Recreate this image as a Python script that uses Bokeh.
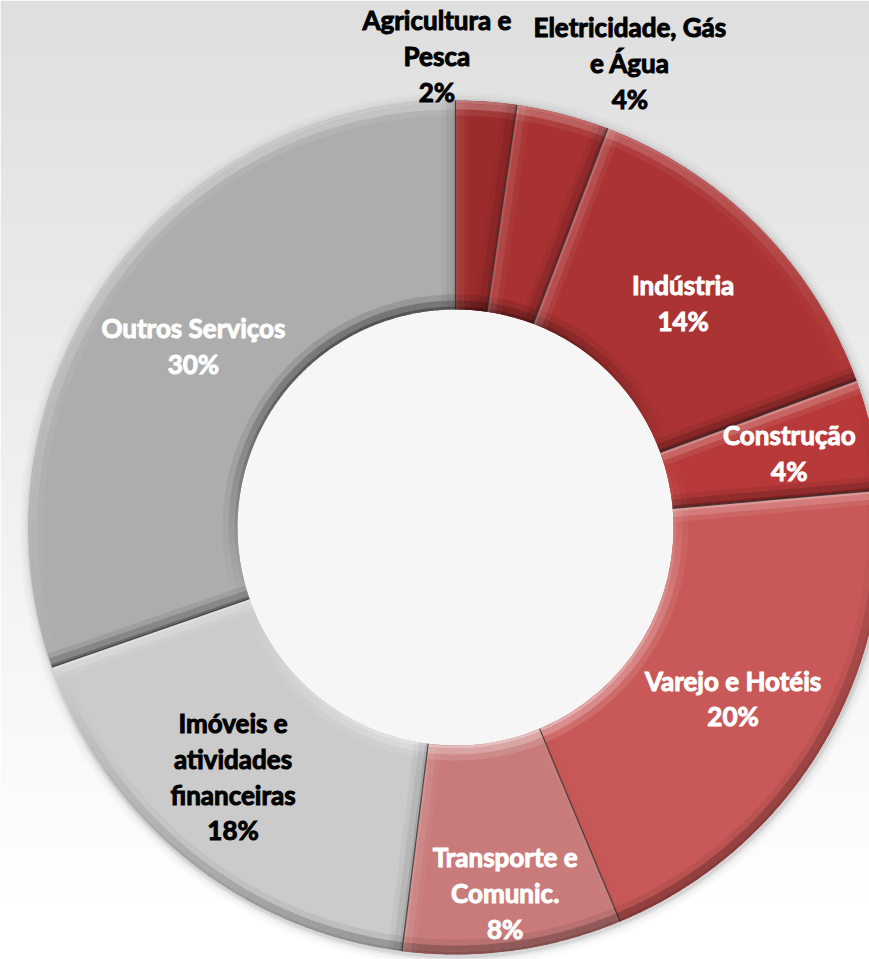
import numpy as np
from bokeh.plotting import figure
from bokeh.models import Range1d
from bokeh.core.properties import value
from bokeh.embed import file_html
from bokeh.resources import INLINE

# ---------------- data ----------------
categories = ["Agricultura e\nPesca", "Eletricidade, Gás\ne Água", "Indústria", "Construção",
              "Varejo e Hotéis", "Transporte e\nComunic.", "Imóveis e\natividades\nfinanceiras",
              "Outros Serviços"]
shares = [2.3, 3.5, 13.6, 4.2, 20.1, 8.3, 17.7, 30.3]
pct_labels = ["2%", "4%", "14%", "4%", "20%", "8%", "18%", "30%"]

# ---------------- style / layout ----------------
slice_colors = ["#9C2B2B", "#A83131", "#AB3333", "#B83939", "#C85958", "#C97B7B", "#CBCBCB", "#ADADAD"]
label_colors = ["#000000", "#000000", "#FFFFFF", "#FFFFFF", "#FFFFFF", "#FFFFFF", "#000000", "#FFFFFF"]
label_radius = [472, 496, 320, 342, 326, 369, 334, 319]     # px from centre
label_shift = [-6.4, 6.0, 0.0, 0.0, 0.5, 0.0, 2.7, -0.7]    # deg, clockwise

W, H = 869, 959
CX, CY = 455.0, H - 527.0
R_OUT, R_IN = 427.0, 218.0
FONT = "Lato"

p = figure(width=W, height=H, output_backend="svg", toolbar_location=None,
           x_range=Range1d(0, W), y_range=Range1d(0, H),
           x_axis_type=None, y_axis_type=None, min_border=0)
p.grid.visible = False
p.outline_line_color = None
p.background_fill_color = None
p.border_fill_color = None


def hex2rgb(h):
    h = h.lstrip("#")
    return np.array([int(h[i:i + 2], 16) for i in (0, 2, 4)], dtype=float)


def rgb2hex(c):
    c = np.clip(np.round(c), 0, 255).astype(int)
    return "#%02x%02x%02x" % tuple(c)


# background gradient (top grey -> bottom white)
band = 6
tops = np.arange(H, 0, -band, dtype=float)
bottoms = tops - band
yref_mid = H - (tops + bottoms) / 2
g = np.clip(223 + 32 * (yref_mid / 900.0), 0, 255).astype(int)
bg_cols = ["#%02x%02x%02x" % (v, v, v) for v in g]
p.quad(left=0, right=W, top=tops, bottom=bottoms - 0.5, fill_color=bg_cols, line_color=None)

# soft drop shadow around the ring
for (r0, r1, a) in [(R_OUT - 2, R_OUT + 2, 0.16), (R_OUT + 2, R_OUT + 4, 0.09),
                    (R_OUT + 4, R_OUT + 7, 0.045), (R_OUT + 7, R_OUT + 10, 0.02)]:
    p.annulus(x=CX + 1, y=CY - 2, inner_radius=r0, outer_radius=r1,
              fill_color="black", fill_alpha=a, line_color=None)

# light hole
p.circle(x=CX, y=CY, radius=R_IN + 1, fill_color="#F6F6F6", line_color=None)

# slices
frac = np.array(shares) / np.sum(shares)
cum = np.concatenate([[0], np.cumsum(frac)])
start_a = np.pi / 2 - 2 * np.pi * cum[1:]
end_a = np.pi / 2 - 2 * np.pi * cum[:-1]
p.annular_wedge(x=CX, y=CY, inner_radius=R_IN, outer_radius=R_OUT,
                start_angle=start_a, end_angle=end_a, direction="anticlock",
                fill_color=slice_colors, line_color=None)

# bevel shading on outer / inner rims (opaque blended colours), lit from above-left
L = np.array([-0.35, 1.0]); L = L / np.linalg.norm(L)
seg_s, seg_e, seg_base, seg_k = [], [], [], []
for i in range(len(shares)):
    a0, a1 = start_a[i], end_a[i]
    nseg = max(1, int(np.ceil((a1 - a0) / np.deg2rad(1.5))))
    edges = np.linspace(a0, a1, nseg + 1)
    for j in range(nseg):
        s, e = edges[j], edges[j + 1]
        m = (s + e) / 2
        seg_s.append(s)
        seg_e.append(min(e + 0.004, a1))
        seg_base.append(hex2rgb(slice_colors[i]))
        seg_k.append(np.cos(m) * L[0] + np.sin(m) * L[1])
seg_k = np.array(seg_k)


def rim(r0, r1, k, strength):
    cols = []
    for base, v in zip(seg_base, k):
        t = abs(v) * strength
        target = np.array([255.0, 255, 255]) if v > 0 else np.array([0.0, 0, 0])
        cols.append(rgb2hex(base * (1 - t) + target * t))
    p.annular_wedge(x=CX, y=CY, inner_radius=r0, outer_radius=r1,
                    start_angle=seg_s, end_angle=seg_e, direction="anticlock",
                    fill_color=cols, line_color=None)


rim(R_OUT - 15, R_OUT - 9, seg_k, 0.08)
rim(R_OUT - 9, R_OUT - 3, seg_k, 0.28)
rim(R_OUT - 3, R_OUT, seg_k, 0.35)
rim(R_IN + 9, R_IN + 15, -seg_k, 0.12)
rim(R_IN + 3, R_IN + 9, -seg_k, 0.32)
rim(R_IN, R_IN + 3, -seg_k, 0.52)

# bevel shading along radial edges
bx, by, bc, ba = [], [], [], []
for i in range(len(shares)):
    a = np.pi / 2 - 2 * np.pi * cum[i]
    u = np.array([np.cos(a), np.sin(a)])
    n = np.array([-np.sin(a), np.cos(a)])        # points counter-clockwise
    k_lead = float(n @ L)
    for kk, d in [(k_lead, -n), (-k_lead, n)]:
        for (w0, w1, s) in [(0, 3, 0.40), (3, 9, 0.22), (9, 14, 0.08)]:
            p0 = np.array([CX, CY]) + R_IN * u + w0 * d
            p1 = np.array([CX, CY]) + R_OUT * u + w0 * d
            p2 = np.array([CX, CY]) + R_OUT * u + w1 * d
            p3 = np.array([CX, CY]) + R_IN * u + w1 * d
            bx.append([p0[0], p1[0], p2[0], p3[0]])
            by.append([p0[1], p1[1], p2[1], p3[1]])
            bc.append("white" if kk > 0 else "black")
            ba.append(abs(kk) * s)
p.patches(xs=bx, ys=by, fill_color=bc, fill_alpha=ba, line_color=None)

# thin dark separators
sep_a = np.pi / 2 - 2 * np.pi * cum[:-1]
p.segment(x0=CX + R_IN * np.cos(sep_a), y0=CY + R_IN * np.sin(sep_a),
          x1=CX + R_OUT * np.cos(sep_a), y1=CY + R_OUT * np.sin(sep_a),
          line_color="#222222", line_alpha=0.75, line_width=1.2)

# labels
mid_cw = 360.0 * (cum[:-1] + cum[1:]) / 2 + np.array(label_shift)
la = np.deg2rad(90.0 - mid_cw)
lx = CX + np.array(label_radius) * np.cos(la)
ly = CY + np.array(label_radius) * np.sin(la)
texts = [c + "\n" + q for c, q in zip(categories, pct_labels)]
p.text(x=lx, y=ly, text=texts, text_font=value(FONT), text_font_style="bold",
       text_font_size="26px", text_align="center", text_baseline="middle",
       text_color=label_colors, text_line_height=1.12,
       text_outline_color=label_colors)

open("out.html", "w").write(file_html(p, INLINE))
